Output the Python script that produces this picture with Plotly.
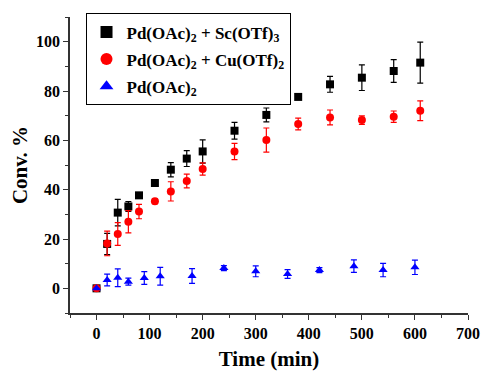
import plotly.graph_objects as go

# Pd(OAc)2 + Sc(OTf)3
t_sc = [0, 20, 40, 60, 80, 110, 140, 170, 200, 260, 320, 380, 440, 500, 560, 610]
y_sc = [0, 18.0, 30.7, 33.2, 37.7, 42.7, 48.1, 52.6, 55.5, 63.9, 70.3, 77.6, 82.7, 85.4, 88.1, 91.5]
e_sc = [0, 4.3, 5.4, 2.0, 0.8, 0.8, 2.9, 3.2, 4.7, 3.4, 2.8, 1.0, 3.2, 5.2, 4.6, 8.3]

# Pd(OAc)2 + Cu(OTf)2
t_cu = [0, 20, 40, 60, 80, 110, 140, 170, 200, 260, 320, 380, 440, 500, 560, 610]
y_cu = [0, 18.2, 22.0, 27.0, 31.1, 35.3, 39.3, 43.5, 48.4, 55.5, 60.1, 66.6, 69.3, 68.2, 69.6, 72.0]
e_cu = [0, 5.0, 4.6, 4.5, 2.9, 1.0, 3.9, 2.8, 2.5, 3.3, 4.9, 2.4, 3.0, 1.7, 2.3, 4.0]

# Pd(OAc)2
t_pd = [0, 20, 40, 60, 90, 120, 180, 240, 300, 360, 420, 485, 540, 600]
y_pd = [0, 3.4, 4.3, 2.7, 4.2, 4.9, 5.0, 8.2, 6.9, 5.8, 7.4, 9.0, 7.4, 8.5]
e_pd = [0, 2.4, 3.6, 1.4, 2.6, 3.6, 3.0, 1.0, 2.2, 1.8, 1.0, 2.5, 2.7, 2.9]

FONT = "Liberation Serif"

fig = go.Figure()

def add(x, y, e, name, color, symbol, group):
    fig.add_trace(go.Scatter(
        x=x, y=y, mode="markers", name=name, legendgroup=group,
        marker=dict(color=color, symbol=symbol, size=8),
        error_y=dict(type="data", array=e, visible=True, color=color, thickness=1.2, width=3),
    ))

add(t_sc, y_sc, e_sc, "Pd(OAc)<sub>2</sub> + Sc(OTf)<sub>3</sub>", "black", "square", "a")
add(t_cu, y_cu, e_cu, "Pd(OAc)<sub>2</sub> + Cu(OTf)<sub>2</sub>", "red", "circle", "b")
add(t_pd, y_pd, e_pd, "Pd(OAc)<sub>2</sub>", "blue", "triangle-up", "c")

fig.update_layout(
    width=481, height=371,
    margin=dict(l=70, r=13, t=17, b=58),
    plot_bgcolor="white", paper_bgcolor="white",
    font=dict(family=FONT, color="black", size=15),
    showlegend=True,
    legend=dict(
        x=0.039, y=1.012, xanchor="left", yanchor="top",
        bordercolor="black", borderwidth=1, bgcolor="white",
        font=dict(family=FONT, size=17, color="black", weight="bold"),
        itemsizing="constant", tracegroupgap=2,
    ),
    xaxis=dict(
        range=[-50, 700], tickvals=[0, 100, 200, 300, 400, 500, 600, 700],
        automargin=False,
        showgrid=False, zeroline=False, showline=True, linecolor="#333", linewidth=1.5,
        ticks="outside", ticklen=5, tickwidth=1.2, tickcolor="#333",
        minor=dict(tickvals=[-50, 50, 150, 250, 350, 450, 550, 650], ticks="outside", ticklen=3, tickcolor="#333", tickwidth=1),
        tickfont=dict(family=FONT, size=16, color="black", weight="bold"),
        title=dict(text="Time (min)", font=dict(family=FONT, size=21, color="black", weight="bold"), standoff=12),
    ),
    yaxis=dict(
        range=[-10, 110], tickvals=[0, 20, 40, 60, 80, 100],
        automargin=False,
        showgrid=False, zeroline=False, showline=True, linecolor="#333", linewidth=1.5,
        ticks="outside", ticklen=5, tickwidth=1.2, tickcolor="#333",
        minor=dict(tickvals=[-10, 10, 30, 50, 70, 90, 110], ticks="outside", ticklen=3, tickcolor="#333", tickwidth=1),
        tickfont=dict(family=FONT, size=16, color="black", weight="bold"),
        title=dict(text="Conv. %", font=dict(family=FONT, size=21, color="black", weight="bold"), standoff=3),
    ),
)

fig.write_html("out.html")
